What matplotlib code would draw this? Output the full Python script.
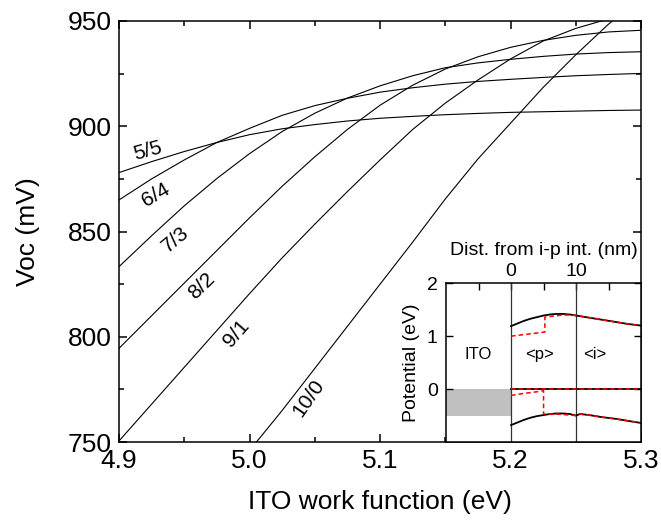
import matplotlib
matplotlib.use("Agg")
import matplotlib.pyplot as plt
from matplotlib.ticker import MultipleLocator
import numpy as np

plt.rcParams['font.family'] = ['Liberation Sans', 'DejaVu Sans']

# Voc vs ITO work function for each ratio
wf = [4.90, 4.925, 4.95, 4.975, 5.00, 5.025, 5.05, 5.075, 5.10, 5.125, 5.15, 5.175, 5.20, 5.225, 5.25, 5.275, 5.30]
voc_55 = [878, 883.2, 888, 892.3, 896, 898.8, 900.8, 902.5, 903.8, 904.7, 905.5, 906.1, 906.6, 906.9, 907.2, 907.5, 907.7]
voc_64 = [865, 875, 884, 892.3, 899, 905.2, 909.8, 913.3, 916.2, 918.3, 920, 921.3, 922.3, 923.2, 924, 924.6, 925.1]
voc_73 = [833.3, 848, 862.2, 875.2, 887, 897.5, 906.2, 913.4, 919.2, 924, 927.8, 930.1, 931.8, 933.2, 934.3, 935, 935.4]
voc_82 = [794.5, 810, 825.5, 841, 856.5, 871.5, 885.5, 898.5, 910, 919.5, 927.2, 933, 937.5, 940.8, 943.2, 944.8, 945.6]
voc_91 = [750.5, 768, 785.5, 803, 820.5, 837.5, 853.5, 869, 884, 898.5, 911, 922, 932, 940.5, 946.5, 951, 954.5]
wf_100 = [5.00, 5.025, 5.05, 5.075, 5.10, 5.125, 5.15, 5.175, 5.20, 5.225, 5.25, 5.275, 5.30]
voc_100 = [746, 765, 785, 805, 825, 845, 865.5, 884.5, 901.5, 918.5, 934, 948.5, 961]

ratios = ['5/5', '6/4', '7/3', '8/2', '9/1', '10/0']
label_x = [4.922, 4.928, 4.943, 4.963, 4.990, 5.045]
label_y = [888.5, 867.5, 846.0, 824.0, 801.5, 771.0]
label_rot = [15, 30, 40, 44, 49, 55]

# band profile near the ITO/p/i stack (nm, eV)
d_cb = [0, 1, 2, 3, 4, 5, 6, 7, 8, 9, 10, 12, 14, 16, 18, 20]
cb = [1.19, 1.24, 1.29, 1.33, 1.36, 1.39, 1.41, 1.42, 1.42, 1.41, 1.39, 1.35, 1.31, 1.27, 1.23, 1.20]
d_vb = [0, 1, 2, 3, 4, 5, 6, 7, 8, 9, 10, 10.6, 12, 14, 16, 18, 20]
vb = [-0.68, -0.63, -0.58, -0.54, -0.51, -0.49, -0.47, -0.46, -0.46, -0.47, -0.50, -0.47, -0.49, -0.53, -0.56, -0.60, -0.64]
d_cb_ref = [0, 2, 4, 5.2, 5.2, 6.5, 8, 9, 10, 12, 14, 16, 18, 20]
cb_ref = [1.00, 1.03, 1.06, 1.08, 1.36, 1.38, 1.40, 1.40, 1.39, 1.35, 1.31, 1.27, 1.23, 1.20]
d_vb_ref = [0, 2, 4, 5.0, 5.0, 6, 7, 8, 9, 10, 10.6, 12, 14, 16, 18, 20]
vb_ref = [-0.12, -0.08, -0.05, -0.03, -0.47, -0.47, -0.47, -0.48, -0.49, -0.50, -0.47, -0.49, -0.53, -0.56, -0.60, -0.64]
d_fermi = [0, 20]
fermi = [0, 0]

fig = plt.figure(figsize=(6.61, 5.25), dpi=100)
ax = fig.add_axes([0.180, 0.158, 0.790, 0.802])

for v in [voc_55, voc_64, voc_73, voc_82, voc_91]:
    ax.plot(wf, v, color='black', lw=0.8)
ax.plot(wf_100, voc_100, color='black', lw=0.8)

for name, x, y, r in zip(ratios, label_x, label_y, label_rot):
    ax.text(x, y, name, rotation=r, ha='center', va='center', fontsize=15,
            rotation_mode='anchor')

ax.set_xlim(4.9, 5.3)
ax.set_ylim(750, 950)
ax.xaxis.set_major_locator(MultipleLocator(0.1))
ax.xaxis.set_minor_locator(MultipleLocator(0.05))
ax.yaxis.set_major_locator(MultipleLocator(50))
ax.yaxis.set_minor_locator(MultipleLocator(25))
ax.xaxis.set_major_formatter(plt.FuncFormatter(lambda v, p: '%.1f' % v))
ax.tick_params(which='both', direction='in', top=True, right=True, width=1.1)
ax.tick_params(which='major', length=6, labelsize=19, pad=5)
ax.tick_params(which='minor', length=3.5)
for s in ax.spines.values():
    s.set_linewidth(1.1)
ax.set_xlabel('ITO work function (eV)', fontsize=19, labelpad=12)
ax.set_ylabel('Voc (mV)', fontsize=19, labelpad=20)

# inset
ins = fig.add_axes([0.6747, 0.158, 0.2953, 0.3025])
ins.set_facecolor('white')
ins.axvspan(-10, 0, ymin=1/3 - 0.5/3, ymax=1/3, color='#c0c0c0', lw=0)
ins.axvline(0, color='#333333', lw=0.9)
ins.axvline(10, color='#333333', lw=0.9)
ins.plot(d_cb, cb, color='black', lw=1.3)
ins.plot(d_vb, vb, color='black', lw=1.3)
ins.plot(d_fermi, fermi, color='black', lw=1.3)
ins.plot(d_cb_ref, cb_ref, color='red', lw=1.1, ls=(0, (3, 2)))
ins.plot(d_vb_ref, vb_ref, color='red', lw=1.1, ls=(0, (3, 2)))
ins.plot(d_fermi, fermi, color='red', lw=1.1, ls=(0, (3, 2)))
ins.text(-5, 0.66, 'ITO', ha='center', va='center', fontsize=12)
ins.text(4.3, 0.66, '<p>', ha='center', va='center', fontsize=12)
ins.text(12.8, 0.66, '<i>', ha='center', va='center', fontsize=12)

ins.set_xlim(-10, 20)
ins.set_ylim(-1, 2)
ins.xaxis.tick_top()
ins.xaxis.set_label_position('top')
ins.set_xticks([0, 10])
ins.set_xticks([-5, 5, 15], minor=True)
ins.set_yticks([0, 1, 2])
ins.tick_params(which='both', direction='in', top=True, bottom=False,
                left=True, right=True, width=1.0, labelsize=14)
ins.tick_params(axis='x', pad=2)
ins.tick_params(axis='y', pad=6)
ins.tick_params(which='major', length=5)
ins.tick_params(which='minor', length=5)
for s in ins.spines.values():
    s.set_linewidth(1.1)
ins.set_xlabel('Dist. from i-p int. (nm)', fontsize=14, labelpad=6)
ins.set_ylabel('Potential (eV)', fontsize=14, labelpad=5)

fig.savefig('out.png', dpi=100)
